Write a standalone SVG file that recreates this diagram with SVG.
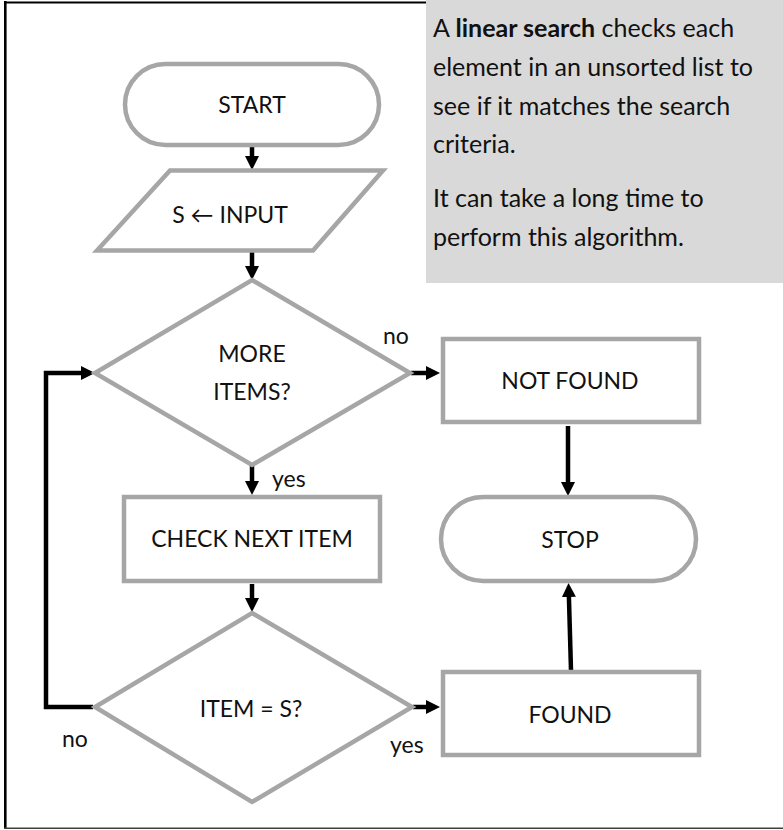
<svg xmlns="http://www.w3.org/2000/svg" width="783" height="830" viewBox="0 0 783 830">
  <style>
    .shape { fill: #ffffff; stroke: #a6a6a6; stroke-width: 4.5; }
    .lbl { font-family: Lato, "Liberation Sans", sans-serif; font-size: 23px; fill: #111111; }
    .mid { text-anchor: middle; }
    .para { font-family: Lato, "Liberation Sans", sans-serif; font-size: 25px; fill: #111111; }
    .conn { fill: none; stroke: #000000; stroke-width: 4.5; marker-end: url(#arrow); }
  </style>
  <defs>
    <marker id="arrow" viewBox="0 0 14 14" markerWidth="14" markerHeight="14" markerUnits="userSpaceOnUse" refX="4" refY="7" orient="auto">
      <path d="M0,0 L14,7 L0,14 z" fill="#000000"/>
    </marker>
  </defs>
  <rect width="783" height="830" fill="#ffffff"/>

  <g id="frame">
    <line x1="5.3" y1="1" x2="5.3" y2="829" stroke="#000000" stroke-width="2.6"/>
    <line x1="4" y1="2.5" x2="430" y2="2.5" stroke="#000000" stroke-width="1.8"/>
    <line x1="4" y1="828.2" x2="783" y2="828.2" stroke="#404040" stroke-width="1.6"/>
  </g>

  <g id="note">
    <rect x="426" y="0" width="357" height="283" fill="#d9d9d9"/>
    <text class="para" x="433" y="37">A <tspan font-weight="bold">linear search</tspan> checks each</text>
    <text class="para" x="433" y="76">element in an unsorted list to</text>
    <text class="para" x="433" y="115">see if it matches the search</text>
    <text class="para" x="433" y="153">criteria.</text>
    <text class="para" x="433" y="207">It can take a long time to</text>
    <text class="para" x="433" y="246">perform this algorithm.</text>
  </g>

  <g id="connectors">
    <line class="conn" x1="252" y1="146" x2="252" y2="160"/>
    <line class="conn" x1="252" y1="252" x2="252" y2="270"/>
    <line class="conn" x1="252" y1="466" x2="252" y2="485"/>
    <line class="conn" x1="252" y1="584" x2="252" y2="602"/>
    <line class="conn" x1="411" y1="373" x2="430" y2="373"/>
    <line class="conn" x1="568" y1="426" x2="568" y2="486"/>
    <line class="conn" x1="413" y1="707" x2="430" y2="707"/>
    <line class="conn" x1="571" y1="670" x2="568.8" y2="593"/>
    <polyline class="conn" points="93,707 46,707 46,373 85,373"/>
  </g>

  <g id="start">
    <rect class="shape" x="125" y="64" width="254" height="81" rx="40.5"/>
    <text class="lbl mid" x="252" y="113">START</text>
  </g>

  <g id="input">
    <polygon class="shape" points="170,170.5 383,170.5 313,250.5 97,250.5"/>
    <text class="lbl mid" x="230" y="223">S ← INPUT</text>
  </g>

  <g id="more-items">
    <polygon class="shape" points="252,280 410,373 252,465 95,373"/>
    <text class="lbl mid" x="252" y="362">MORE</text>
    <text class="lbl mid" x="252" y="400">ITEMS?</text>
    <text class="lbl" x="383" y="344">no</text>
    <text class="lbl" x="272" y="487">yes</text>
  </g>

  <g id="not-found">
    <rect class="shape" x="443" y="339" width="256" height="83"/>
    <text class="lbl mid" x="570" y="389">NOT FOUND</text>
  </g>

  <g id="check-next">
    <rect class="shape" x="124" y="497" width="256" height="84"/>
    <text class="lbl mid" x="252" y="547">CHECK NEXT ITEM</text>
  </g>

  <g id="stop">
    <rect class="shape" x="441" y="497" width="255" height="84" rx="42"/>
    <text class="lbl mid" x="570" y="548">STOP</text>
  </g>

  <g id="item-equals-s">
    <polygon class="shape" points="252,613 412,707 252,802 95,707"/>
    <text class="lbl mid" x="251" y="717">ITEM = S?</text>
    <text class="lbl" x="62" y="747">no</text>
    <text class="lbl" x="390" y="753">yes</text>
  </g>

  <g id="found">
    <rect class="shape" x="443" y="672" width="256" height="83"/>
    <text class="lbl mid" x="570" y="723">FOUND</text>
  </g>
</svg>
